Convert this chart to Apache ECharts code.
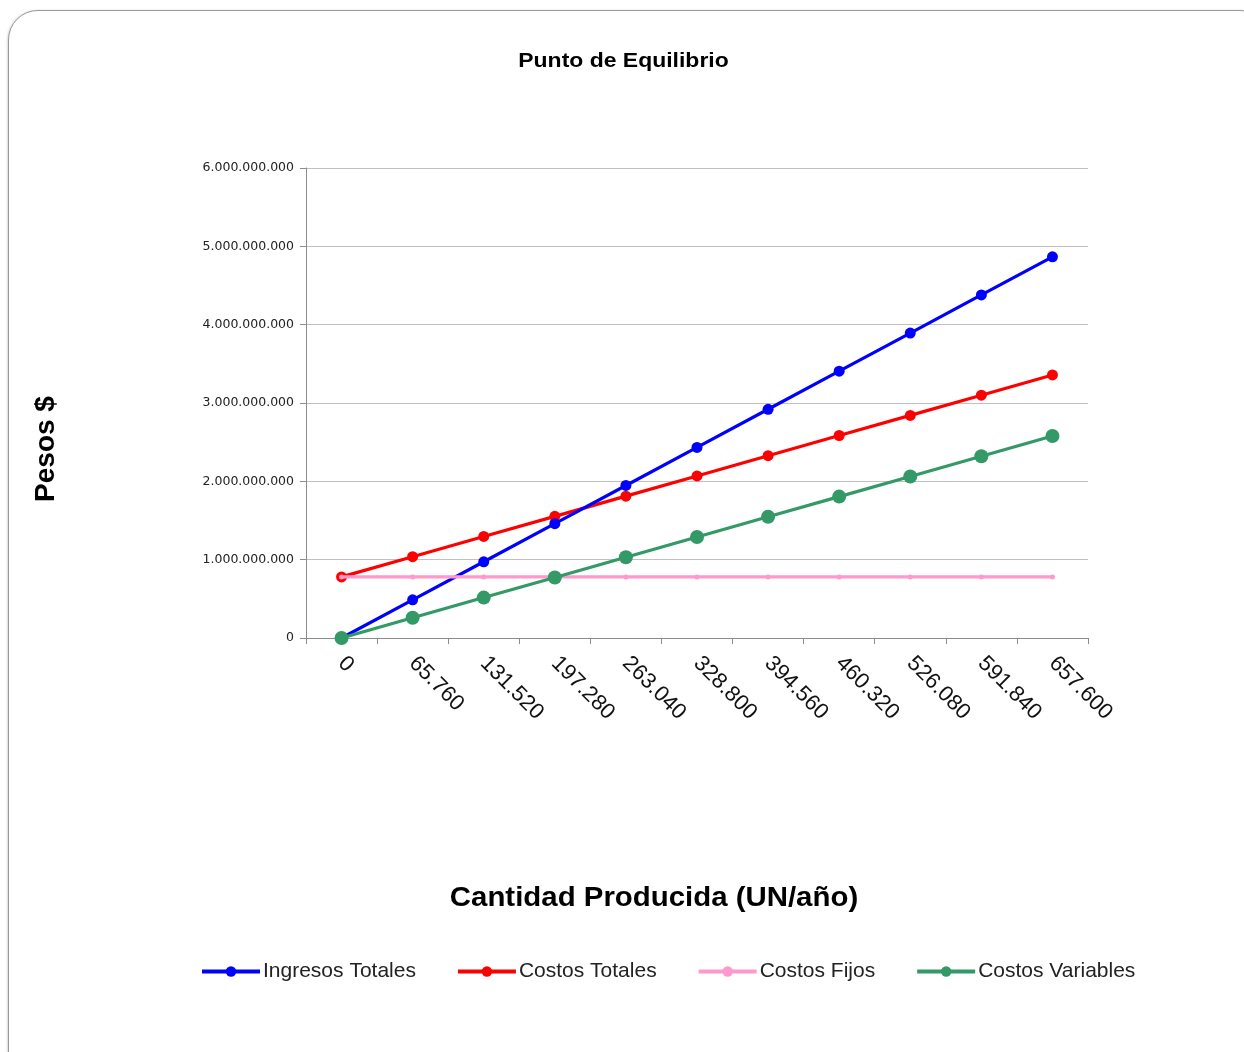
<!DOCTYPE html>
<html><head><meta charset="utf-8">
<script src="https://cdn.jsdelivr.net/npm/echarts@6/dist/echarts.min.js"></script>
<style>
html,body{margin:0;padding:0;background:#fff;overflow:hidden}
#frame{position:absolute;left:8px;top:10px;width:1260px;height:1070px;border:1.5px solid #9a9a9a;border-radius:30px;box-shadow:-1px 0 2px rgba(0,0,0,0.15);background:#fff}
#chart{position:absolute;left:0;top:0;width:1244px;height:1052px}
</style></head>
<body>
<div id="frame"></div>
<div id="chart"></div>
<script>
const categories = ['0','65.760','131.520','197.280','263.040','328.800','394.560','460.320','526.080','591.840','657.600'];
const ingresosTotales = [0, 487e6, 973e6, 1460e6, 1947e6, 2433e6, 2920e6, 3406e6, 3893e6, 4380e6, 4866e6];
const costosTotales = [780e6, 1038e6, 1296e6, 1553e6, 1811e6, 2069e6, 2327e6, 2585e6, 2842e6, 3100e6, 3358e6];
const costosFijos = [780e6, 780e6, 780e6, 780e6, 780e6, 780e6, 780e6, 780e6, 780e6, 780e6, 780e6];
const costosVariables = [0, 258e6, 516e6, 773e6, 1031e6, 1289e6, 1547e6, 1805e6, 2062e6, 2320e6, 2578e6];
const seriesNames = ['Ingresos Totales','Costos Totales','Costos Fijos','Costos Variables'];

const font = 'Arial, "Liberation Sans", sans-serif';
function fmt(v){ return String(Math.round(v)).replace(/\B(?=(\d{3})+(?!\d))/g,'.'); }

const chart = echarts.init(document.getElementById('chart'), null, {renderer:'canvas'});
chart.setOption({
  backgroundColor: 'transparent',
  animation: false,
  grid: { left: 306, right: 156, top: 168, bottom: 414, containLabel: false },
  legend: {
    left: 200, top: 961, padding: 0, itemWidth: 58, itemHeight: 13, itemGap: 40,
    lineStyle: { width: 4 },
    textStyle: { fontFamily: font, fontSize: 21, color: '#222', padding: [0,0,0,-2] },
    data: seriesNames
  },
  xAxis: {
    type: 'category', data: categories, boundaryGap: true,
    axisLine: { lineStyle: { color: '#8c8c8c', width: 1 } },
    axisTick: { show: true, length: 6, alignWithLabel: false, lineStyle: { color: '#8c8c8c' } },
    axisLabel: { rotate: -45, margin: 22, fontFamily: font, fontSize: 22, color: '#111', interval: 0 },
    splitLine: { show: false }
  },
  yAxis: {
    type: 'value', min: 0, max: 6e9, interval: 1e9,
    axisLine: { show: true, lineStyle: { color: '#8c8c8c', width: 1 } },
    axisTick: { show: true, length: 6, lineStyle: { color: '#8c8c8c' } },
    axisLabel: { formatter: fmt, margin: 12, fontFamily: '"DejaVu Sans", sans-serif', fontSize: 12.5, color: '#222' },
    splitLine: { show: true, lineStyle: { color: '#c0c0c0', width: 1 } }
  },
  graphic: [
    { type: 'text', x: 623.5, y: 61, scaleX: 1.12,
      style: { text: 'Punto de Equilibrio', fontFamily: font, fontSize: 20.5, fontWeight: 'bold', fill: '#000', align: 'center', verticalAlign: 'middle' } },
    { type: 'text', x: 46, y: 449, rotation: Math.PI/2,
      style: { text: 'Pesos $', fontFamily: font, fontSize: 28, fontWeight: 'bold', fill: '#000', align: 'center', verticalAlign: 'middle' } },
    { type: 'text', x: 654, y: 898, scaleX: 1.05,
      style: { text: 'Cantidad Producida (UN/año)', fontFamily: font, fontSize: 28, fontWeight: 'bold', fill: '#000', align: 'center', verticalAlign: 'middle' } }
  ],
  series: [
    { name: seriesNames[0], type: 'line', data: ingresosTotales, symbol: 'circle', symbolSize: 11,
      lineStyle: { color: '#0000ff', width: 3.2 }, itemStyle: { color: '#0000ff' }, z: 4 },
    { name: seriesNames[1], type: 'line', data: costosTotales, symbol: 'circle', symbolSize: 11,
      lineStyle: { color: '#ff0000', width: 3.2 }, itemStyle: { color: '#ff0000' }, z: 3 },
    { name: seriesNames[2], type: 'line', data: costosFijos, symbol: 'circle', symbolSize: 5,
      lineStyle: { color: '#ff99cc', width: 3.2 }, itemStyle: { color: '#ff99cc' }, z: 5 },
    { name: seriesNames[3], type: 'line', data: costosVariables, symbol: 'circle', symbolSize: 14,
      lineStyle: { color: '#339966', width: 3.2 }, itemStyle: { color: '#339966' }, z: 6 }
  ]
});
</script>
</body></html>
